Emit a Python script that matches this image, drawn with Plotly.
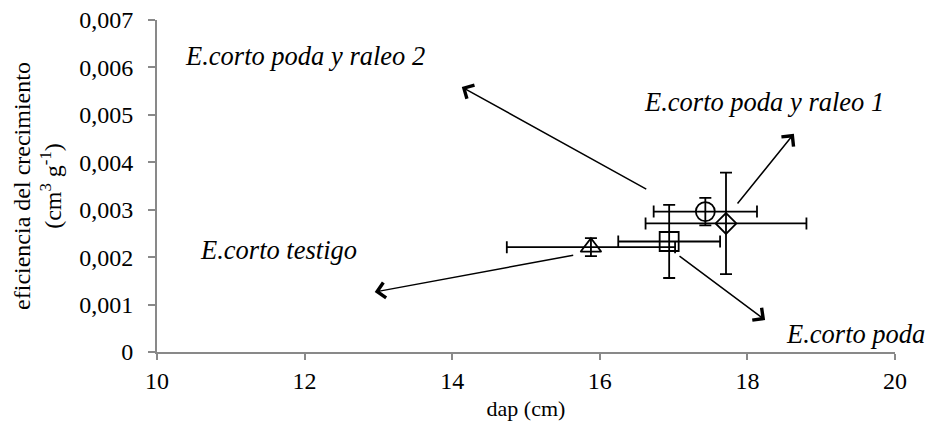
import plotly.graph_objects as go

# ---- data ----
treatments = ["E.corto testigo", "E.corto poda", "E.corto poda y raleo 1", "E.corto poda y raleo 2"]
dap = [15.88, 16.94, 17.71, 17.43]
dap_err = [1.14, 0.69, 1.09, 0.70]
eficiencia = [0.00221, 0.00233, 0.00271, 0.00296]
eficiencia_err = [0.00019, 0.00077, 0.00107, 0.00029]
symbols = ["triangle-up-open", "square-open", "diamond-open", "circle-open"]
sizes = [18, 19, 16, 19]

x_ticks = [10, 12, 14, 16, 18, 20]
y_ticks = [0, 0.001, 0.002, 0.003, 0.004, 0.005, 0.006, 0.007]
y_ticktext = ["0", "0,001", "0,002", "0,003", "0,004", "0,005", "0,006", "0,007"]

# label placement (text centre) and arrow tail/head in data units
label_pos = {
    "E.corto testigo": (11.65, 0.00215),
    "E.corto poda": (19.46, 0.00038),
    "E.corto poda y raleo 1": (18.22, 0.00527),
    "E.corto poda y raleo 2": (12.0, 0.00624),
}
arrows = {  # (tail_x, tail_y, head_x, head_y)
    "E.corto testigo": (15.66, 0.002045, 12.95, 0.001265),
    "E.corto poda": (17.06, 0.002045, 18.24, 0.000675),
    "E.corto poda y raleo 1": (17.85, 0.0031, 18.63, 0.0046),
    "E.corto poda y raleo 2": (16.65, 0.003416, 14.13, 0.005587),
}

FONT = "Liberation Serif"
AXIS_GREY = "#898989"

fig = go.Figure()
for name, x, xe, y, ye, sym, sz in zip(treatments, dap, dap_err, eficiencia,
                                        eficiencia_err, symbols, sizes):
    fig.add_trace(go.Scatter(
        x=[x], y=[y], mode="markers", name=name,
        marker=dict(symbol=sym, size=sz, color="black", line=dict(width=1.8, color="black")),
        error_x=dict(type="data", array=[xe], color="black", thickness=1.8, width=6),
        error_y=dict(type="data", array=[ye], color="black", thickness=1.8, width=6),
        showlegend=False, hoverinfo="skip",
    ))

annotations = []
for name in treatments:
    tx, ty, hx, hy = arrows[name]
    annotations.append(dict(
        x=hx, y=hy, ax=tx, ay=ty, xref="x", yref="y", axref="x", ayref="y",
        text="", showarrow=True, arrowhead=4, arrowsize=2.0, arrowwidth=1.5,
        arrowcolor="black", standoff=0, startstandoff=0,
    ))
    lx, ly = label_pos[name]
    annotations.append(dict(
        x=lx, y=ly, xref="x", yref="y", text="<i>%s</i>" % name, showarrow=False,
        font=dict(family=FONT, size=26.5, color="black"),
        xanchor="center", yanchor="middle",
    ))

fig.update_layout(
    width=931, height=437,
    margin=dict(l=157, r=36, t=20, b=85, autoexpand=False),
    paper_bgcolor="white", plot_bgcolor="white",
    font=dict(family=FONT, size=24, color="black"),
    annotations=annotations,
    xaxis=dict(
        range=[10, 20], tickvals=x_ticks, ticks="outside", ticklen=6, tickwidth=1.5,
        tickcolor=AXIS_GREY, showline=True, linecolor=AXIS_GREY, linewidth=1.8,
        showgrid=False, zeroline=False, automargin=False,
        tickfont=dict(family=FONT, size=24, color="black"),
        title=dict(text="dap (cm)", font=dict(family=FONT, size=22, color="black"), standoff=8),
    ),
    yaxis=dict(
        range=[0, 0.007], tickvals=y_ticks, ticktext=y_ticktext, ticks="outside",
        ticklen=7, tickwidth=1.5, tickcolor=AXIS_GREY, showline=True,
        linecolor=AXIS_GREY, linewidth=1.8, showgrid=False, zeroline=False,
        automargin=False, ticklabelstandoff=10,
        tickfont=dict(family=FONT, size=24, color="black"),
        title=dict(text="eficiencia del crecimiento<br>(cm<sup>3</sup> g<sup>-1</sup>)",
                   font=dict(family=FONT, size=24, color="black"), standoff=11),
    ),
)

fig.write_html("out.html", config={"displayModeBar": False},
               post_script="document.body.style.margin='0';document.body.style.padding='0';")
